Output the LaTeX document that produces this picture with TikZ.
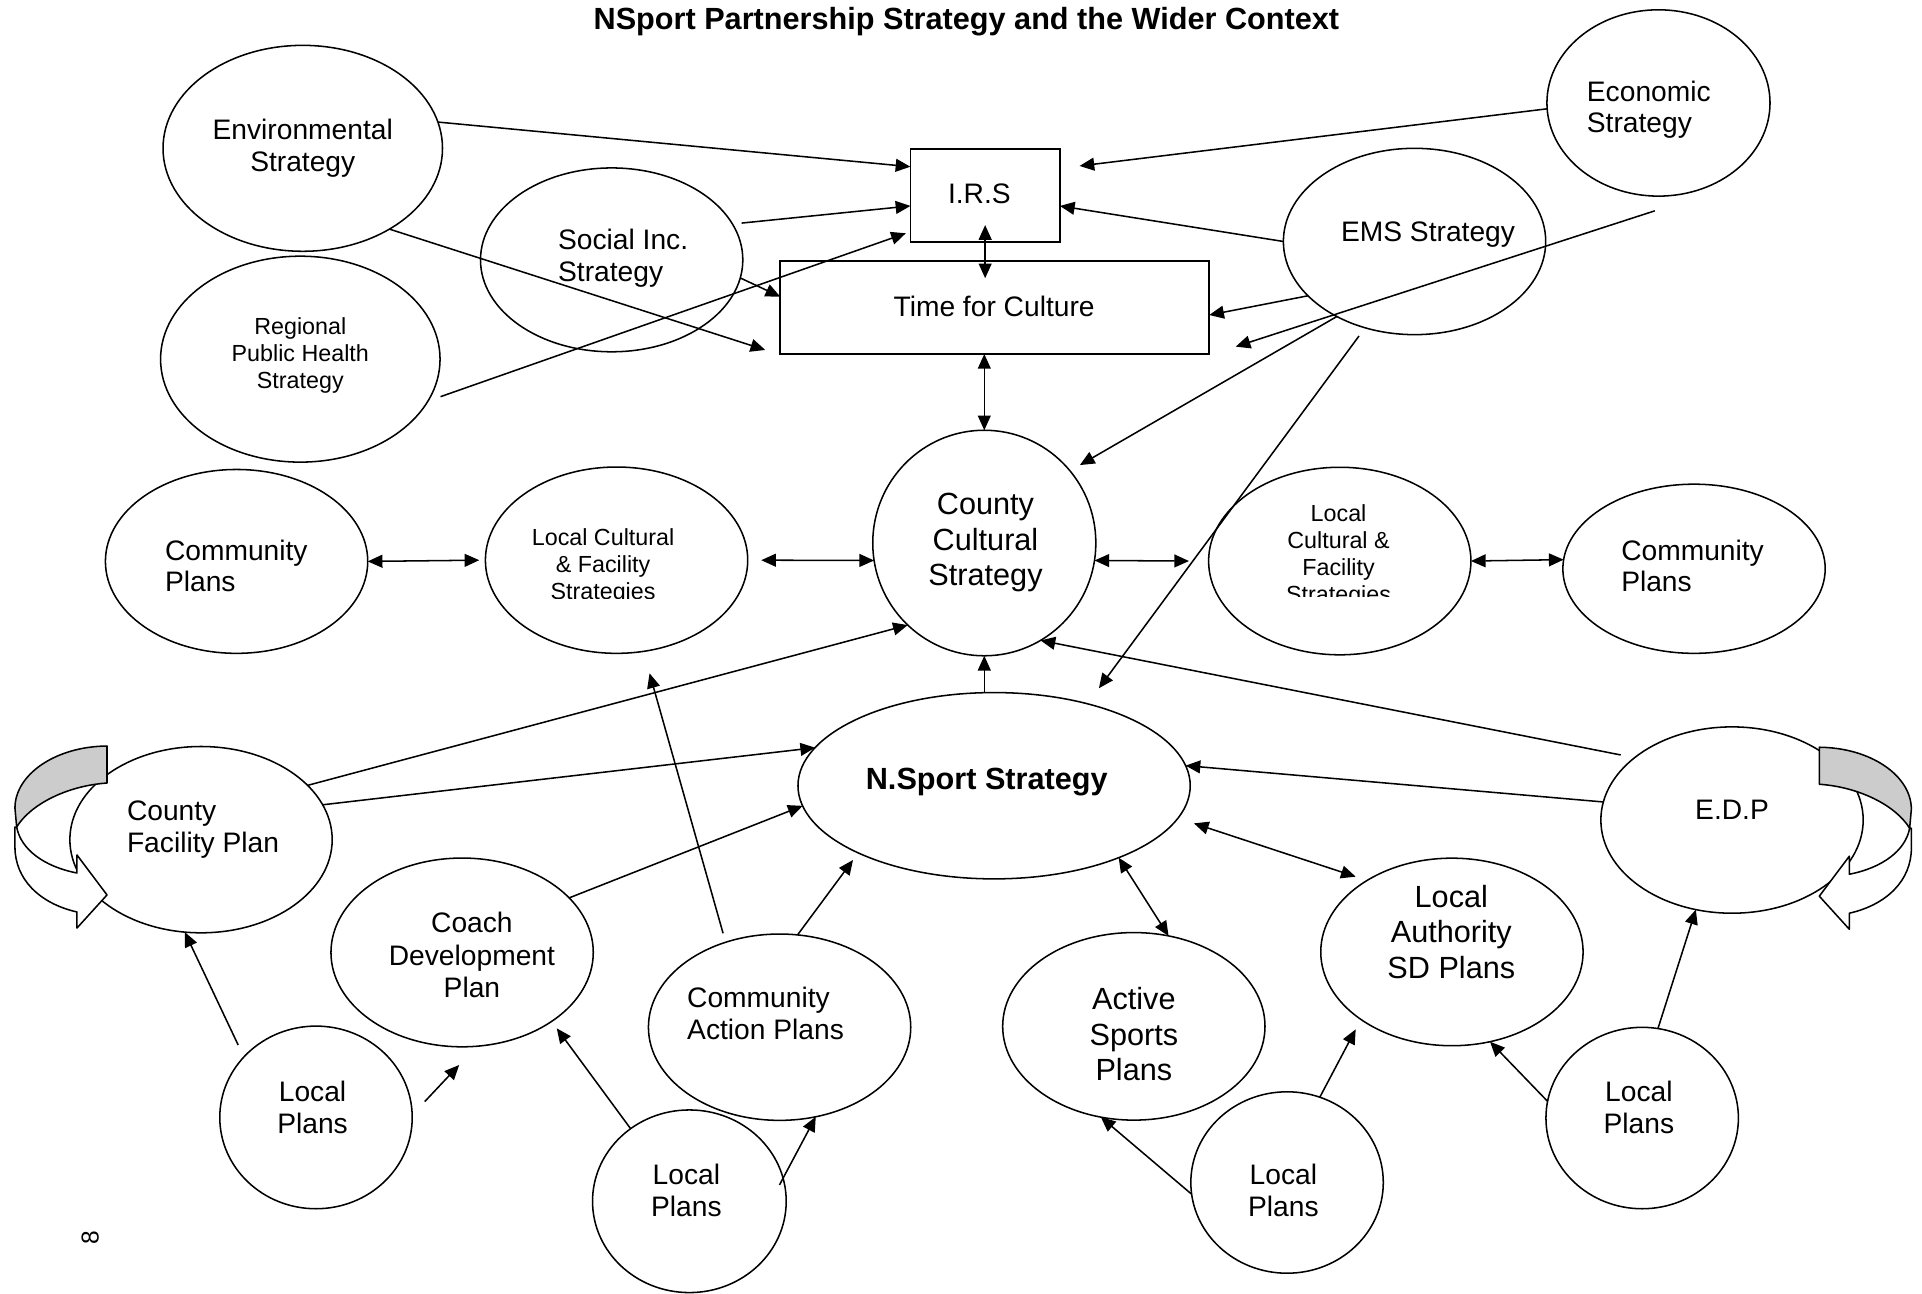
\documentclass[tikz,border=0pt]{standalone}
\usepackage{fontspec}
\setmainfont{Liberation Sans}
\usetikzlibrary{shapes.geometric,arrows.meta,calc}
\definecolor{bandgrey}{RGB}{204,204,204}
\begin{document}
\begin{tikzpicture}[x=1pt,y=-1pt,line width=1.25pt,
  ell/.style={draw,ellipse,inner sep=0pt,outer sep=0pt},
  box/.style={draw,rectangle,inner sep=0pt,outer sep=0pt},
  tx/.style={inner sep=0pt,align=center,font=\fontsize{23}{26}\selectfont,
    execute at begin node=\strut,execute at end node=\strut},
  txl/.style={tx,align=left,anchor=west},
  txs/.style={tx,font=\fontsize{19}{22}\selectfont},
  txb/.style={tx,font=\fontsize{25}{29}\selectfont},
  arr/.style={-{Triangle[length=12pt,width=10.5pt]}},
  darr/.style={{Triangle[length=12pt,width=10.5pt]}-{Triangle[length=12pt,width=10.5pt]}},
  band/.style={draw,line width=1.25pt,line join=round}
]
\useasboundingbox (0,0) rectangle (1568,1055);
\fill[white] (0,0) rectangle (1568,1055);

% title and page number
\node[inner sep=0pt,anchor=base,font=\bfseries\fontsize{25}{29}\selectfont] (title) at (788.4,23.9) {NSport Partnership Strategy and the Wider Context};
\node[inner sep=0pt,rotate=90,font=\fontsize{20}{24}\selectfont] (pg) at (73.5,1010) {8};

% shapes
\node[ell,minimum width=228pt,minimum height=168pt] (env) at (247,121) {};
\node[ell,minimum width=214pt,minimum height=150pt] (soc) at (499,212) {};
\node[ell,minimum width=228pt,minimum height=168pt] (reg) at (245,293) {};
\node[ell,minimum width=182pt,minimum height=152pt] (eco) at (1353,84) {};
\node[ell,minimum width=214pt,minimum height=152pt] (ems) at (1154,197) {};
\node[box,minimum width=122pt,minimum height=76pt] (irs) at (803.7,159.6) {};
\node[box,minimum width=350pt,minimum height=76pt] (tfc) at (811.5,250.8) {};
\node[ell,minimum width=182pt,minimum height=184pt] (ccs) at (803,443) {};
\node[ell,minimum width=214pt,minimum height=150pt] (cpl) at (193,458) {};
\node[ell,minimum width=214pt,minimum height=152pt] (lcl) at (503,457) {};
\node[ell,minimum width=214pt,minimum height=153pt] (lcr) at (1093,457.7) {};
\node[ell,minimum width=214pt,minimum height=138pt] (cpr) at (1382,464) {};
\node[ell,minimum width=320pt,minimum height=152pt] (nsp) at (811,641) {};
\node[ell,minimum width=214pt,minimum height=152pt] (cfp) at (164,685) {};
\node[ell,minimum width=214pt,minimum height=152pt] (edp) at (1413,669) {};
\node[ell,minimum width=214pt,minimum height=154pt] (cdp) at (377,777) {};
\node[ell,minimum width=214pt,minimum height=152pt] (cap) at (636,838) {};
\node[ell,minimum width=214pt,minimum height=153pt] (asp) at (925,837.3) {};
\node[ell,minimum width=214pt,minimum height=153pt] (las) at (1184.5,776.6) {};
\node[ell,minimum width=157pt,minimum height=149pt] (lp1) at (257.8,911.6) {};
\node[ell,minimum width=158pt,minimum height=149pt] (lp2) at (562.4,980) {};
\node[ell,minimum width=157pt,minimum height=148pt] (lp3) at (1050,964.7) {};
\node[ell,minimum width=157pt,minimum height=148pt] (lp4) at (1339.7,912.1) {};

% texts
\node[tx] (envT) at (247,122.2) {Environmental\\Strategy};
\node[txl] (socT) at (454.7,212.5) {Social Inc.\\Strategy};
\node[txs] (regT) at (245,291) {Regional\\Public Health\\Strategy};
\node[txl] (ecoT) at (1294,91) {Economic\\Strategy};
\node[tx] (emsT) at (1165,191.5) {EMS Strategy};
\node[tx] (irsT) at (799,161) {I.R.S};
\node[tx] (tfcT) at (811,253) {Time for Culture};
\node[txb] (ccsT) at (804,444.5) {County\\Cultural\\Strategy};
\node[txl] (cplT) at (134,465.5) {Community\\Plans};
\begin{scope}
  \clip (400,400) rectangle (600,488);
  \node[txs] (lclT) at (492,463.2) {Local Cultural\\\& Facility\\Strategies};
\end{scope}
\begin{scope}
  \clip (990,395) rectangle (1195,486.7);
  \node[txs] (lcrT) at (1092,454.9) {Local\\Cultural \&\\Facility\\Strategies};
\end{scope}
\node[txl] (cprT) at (1322,465.5) {Community\\Plans};
\node[txb,font=\bfseries\fontsize{25}{29}\selectfont] (nspT) at (805,638.5) {N.Sport Strategy};
\node[txl] (cfpT) at (103,678) {County\\Facility Plan};
\node[tx] (edpT) at (1413,663.5) {E.D.P};
\node[tx,font=\fontsize{23}{26.5}\selectfont] (cdpT) at (385,783) {Coach\\Development\\Plan};
\node[txl] (capT) at (560,830.5) {Community\\Action Plans};
\node[txb] (aspT) at (925,848) {Active\\Sports\\Plans};
\node[txb] (lasT) at (1184,764.3) {Local\\Authority\\SD Plans};
\node[tx] (lp1T) at (255,907) {Local\\Plans};
\node[tx] (lp2T) at (560,975) {Local\\Plans};
\node[tx] (lp3T) at (1047,975) {Local\\Plans};
\node[tx] (lp4T) at (1337,907) {Local\\Plans};

% curved ribbon arrows
\begin{scope}
  \path[band,fill=bandgrey] (87.3,608.6) .. controls (45,609) and (12.2,632) .. (12.2,659.2)
    -- (13.6,674.7) .. controls (25,656) and (55,641) .. (87.3,638.8) -- cycle;
  \path[band,fill=white] (13.6,674.7) .. controls (17,693) and (36,707) .. (62.8,712.2)
    -- (62.8,697.5) -- (87.3,730.1) -- (62.8,757.1) -- (62.8,744)
    .. controls (32,737) and (12.2,717) .. (12.2,691) -- (12.2,674.7) -- cycle;
\end{scope}
\begin{scope}[xshift=1571.5pt,yshift=-1pt,xscale=-1]
  \path[band,fill=bandgrey] (87.3,608.6) .. controls (45,609) and (12.2,632) .. (12.2,659.2)
    -- (13.6,674.7) .. controls (25,656) and (55,641) .. (87.3,638.8) -- cycle;
  \path[band,fill=white] (13.6,674.7) .. controls (17,693) and (36,707) .. (62.8,712.2)
    -- (62.8,697.5) -- (87.3,730.1) -- (62.8,757.1) -- (62.8,744)
    .. controls (32,737) and (12.2,717) .. (12.2,691) -- (12.2,674.7) -- cycle;
\end{scope}

% free connector ends
\coordinate (c2s) at (605,182);
\coordinate (c3s) at (359.4,323.6);
\coordinate (c3e) at (739,190.3);
\coordinate (c8e) at (624.3,285.5);
\coordinate (c10s) at (1350,172);
\coordinate (c10e) at (1008.1,282.8);
\coordinate (c11e) at (881,379.4);
\coordinate (c12s) at (1108.7,274.1);
\coordinate (c12e) at (896.5,561.5);
\coordinate (c21s) at (589.9,761.4);
\coordinate (c21e) at (529.9,549.3);
\coordinate (c22e) at (695.9,701.6);
\coordinate (c24s) at (1322.2,615.9);
\coordinate (c27s) at (974,671.7);
\coordinate (c27e) at (1106,715.2);
\coordinate (c29e) at (1106,839.7);
\coordinate (c32s) at (194.3,852.5);
\coordinate (c33s) at (346.5,898.7);
\coordinate (c33e) at (374.6,868.8);
\coordinate (c34e) at (454.2,838.9);
\coordinate (c35s) at (635.9,966.7);

% connectors: top
\draw[arr] (env.11) -- ([yshift=23.6pt]irs.west);
\draw[arr] (c2s) -- ([yshift=-8.4pt]irs.west);
\draw[arr] (c3s) -- (c3e);
\draw[arr] (eco.183) -- ([xshift=16pt,yshift=24.2pt]irs.east);
\draw[arr] (ems.west) -- ([yshift=-8.4pt]irs.east);
\draw[darr] ([yshift=-24pt]irs.center) -- ([yshift=-67.4pt]irs.center);
\draw[arr] (soc.-8) -- ([yshift=8.8pt]tfc.west);
\draw[arr] (env.-43) -- (c8e);
\draw[arr] (ems.207) -- ([yshift=-6.2pt]tfc.east);
\draw[arr] (c10s) -- (c10e);
\draw[arr] (ems.224) -- (c11e);
\draw[arr] (c12s) -- (c12e);
\draw[darr] (ccs.north |- tfc.south) -- (ccs.north);

% middle row
\draw[darr] (cpl.east) -- ([xshift=-5pt]lcl.west);
\draw[darr] ([xshift=11pt]lcl.east) -- (ccs.189);
\draw[darr] (ccs.-9) -- ([xshift=-16pt]lcr.west);
\draw[darr] (lcr.east) -- (cpr.176);

% lower part
\draw[arr] (cfp.27) -- (ccs.227);
\draw[arr] (cfp.16) -- (nsp.168);
\draw[arr] (cdp.27) -- (nsp.186);
\draw[arr] (c21s) -- (c21e);
\draw[arr] (cap.79) -- (c22e);
\draw[arr] (ccs.south |- nsp.north) -- (ccs.south);
\draw[arr] (c24s) -- (ccs.-60);
\draw[arr] (edp.172) -- (nsp.6);
\draw[darr] (nsp.-30) -- (asp.69);
\draw[darr] (c27s) -- (c27e);
\draw[arr] (lp3.187) -- (asp.250);
\draw[arr] (lp3.69) -- (c29e);
\draw[arr] (lp4.170) -- (las.-67);
\draw[arr] (lp4.80) -- (edp.248);
\draw[arr] (c32s) -- (cfp.260);
\draw[arr] (c33s) -- (c33e);
\draw[arr] (lp2.129) -- (c34e);
\draw[arr] (c35s) -- (cap.-68);
\end{tikzpicture}
\end{document}
